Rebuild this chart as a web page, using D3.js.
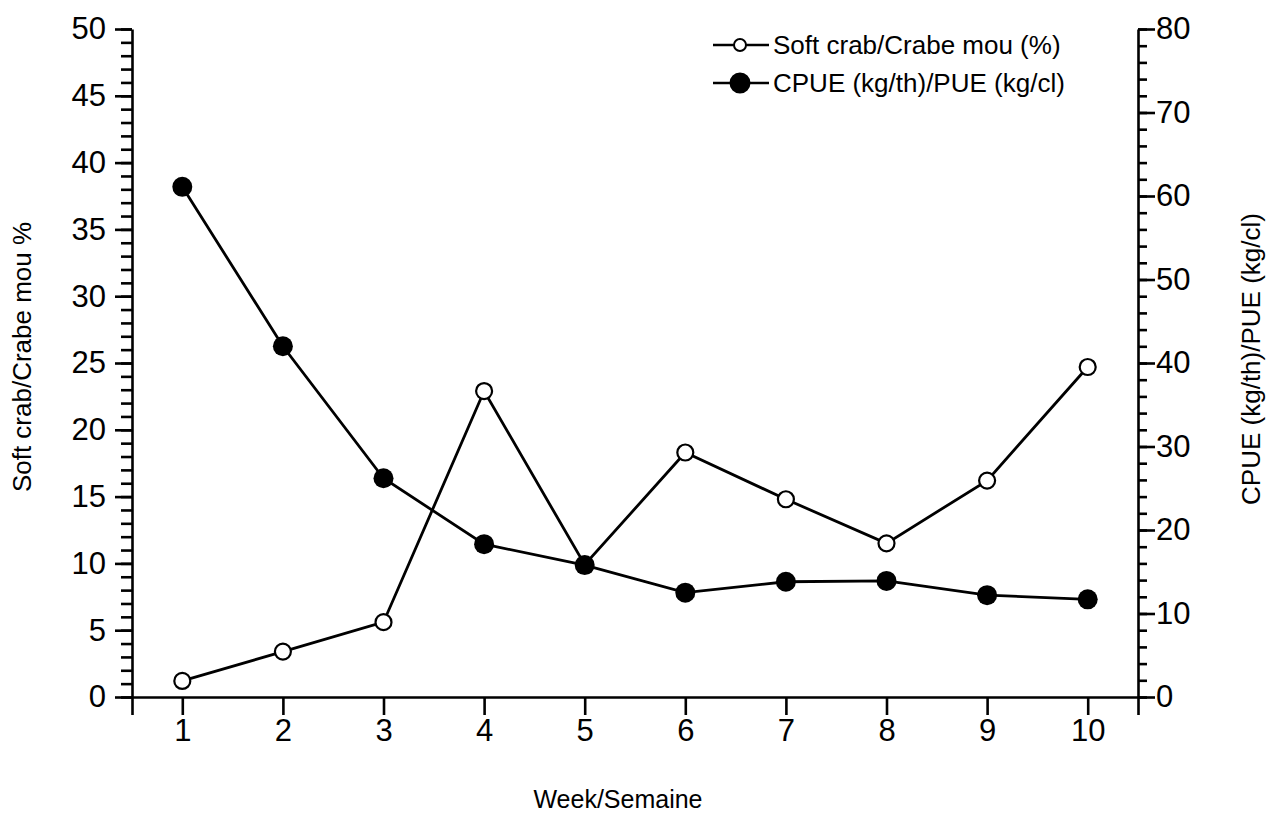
<!DOCTYPE html>
<html>
<head>
<meta charset="utf-8">
<script src="https://cdn.jsdelivr.net/npm/d3@7"></script>
<style>
  body { margin: 0; background: #fff; }
  svg { font-family: "Liberation Sans", Arial, sans-serif; }
  .axis path, .axis line { stroke: #000; stroke-width: 2.6; }
</style>
</head>
<body>
<div id="chart-container"></div>
<script>
// DATA
const weeks = [1, 2, 3, 4, 5, 6, 7, 8, 9, 10];
const softCrab = [1.2, 3.4, 5.6, 22.9, 9.9, 18.3, 14.8, 11.5, 16.2, 24.7];
const cpue = [61.1, 42.0, 26.2, 18.3, 15.8, 12.5, 13.8, 13.9, 12.2, 11.7];
const seriesNames = ['Soft crab/Crabe mou (%)', 'CPUE (kg/th)/PUE (kg/cl)'];
const leftTicks = [0, 5, 10, 15, 20, 25, 30, 35, 40, 45, 50];
const rightTicks = [0, 10, 20, 30, 40, 50, 60, 70, 80];

// GLOBALS AND CONSTANTS
const width = 1270;
const height = 815;
const plot = { left: 132, right: 1138, top: 29, bottom: 697 };
const FONT = '"Liberation Sans", Arial, sans-serif';

const svg = d3.select('#chart-container')
  .append('svg')
  .attr('width', width)
  .attr('height', height);

// SCALES
const xScale = d3.scaleLinear()
  .domain([0.5, 10.5])
  .range([plot.left, plot.right]);

const yLeft = d3.scaleLinear()
  .domain([0, 50])
  .range([plot.bottom, plot.top]);

const yRight = d3.scaleLinear()
  .domain([0, 80])
  .range([plot.bottom, plot.top]);

function styleText(g) {
  g.attr('font-family', FONT).attr('font-size', 31);
  g.selectAll('text').attr('fill', '#000');
}

// AXES
// left minor ticks
svg.append('g')
  .attr('class', 'axis')
  .attr('transform', `translate(${plot.left},0)`)
  .call(d3.axisLeft(yLeft).tickValues(d3.range(0, 51, 1)).tickSize(11).tickSizeOuter(0).tickFormat(''))
  .call(g => g.select('.domain').remove());

// left major ticks
svg.append('g')
  .attr('class', 'axis')
  .attr('transform', `translate(${plot.left},0)`)
  .call(d3.axisLeft(yLeft).tickValues(leftTicks).tickSize(17).tickSizeOuter(0).tickPadding(9))
  .call(styleText);

// right minor ticks
svg.append('g')
  .attr('class', 'axis')
  .attr('transform', `translate(${plot.right},0)`)
  .call(d3.axisRight(yRight).tickValues(d3.range(0, 81, 2)).tickSize(9).tickSizeOuter(0).tickFormat(''))
  .call(g => g.select('.domain').remove());

// right major ticks
svg.append('g')
  .attr('class', 'axis')
  .attr('transform', `translate(${plot.right},0)`)
  .call(d3.axisRight(yRight).tickValues(rightTicks).tickSize(17).tickSizeOuter(0).tickPadding(1))
  .call(styleText);

// bottom
svg.append('g')
  .attr('class', 'axis')
  .attr('transform', `translate(0,${plot.bottom})`)
  .call(d3.axisBottom(xScale).tickValues(weeks).tickSize(18).tickSizeOuter(18).tickPadding(4).tickFormat(d3.format('d')))
  .call(styleText);

// AXIS TITLES
svg.append('text')
  .attr('transform', `translate(31,${(plot.top + plot.bottom) / 2 - 6}) rotate(-90)`)
  .attr('text-anchor', 'middle')
  .style('font-size', '26px')
  .text('Soft crab/Crabe mou %');

svg.append('text')
  .attr('transform', `translate(1260,${(plot.top + plot.bottom) / 2 - 4}) rotate(-90)`)
  .attr('text-anchor', 'middle')
  .style('font-size', '26px')
  .text('CPUE (kg/th)/PUE (kg/cl)');

svg.append('text')
  .attr('x', 618)
  .attr('y', 808)
  .attr('text-anchor', 'middle')
  .style('font-size', '25px')
  .text('Week/Semaine');

// LINES
const softData = weeks.map((w, i) => ({ week: w, value: softCrab[i] }));
const cpueData = weeks.map((w, i) => ({ week: w, value: cpue[i] }));

const lineLeft = d3.line().x(d => xScale(d.week)).y(d => yLeft(d.value));
const lineRight = d3.line().x(d => xScale(d.week)).y(d => yRight(d.value));

svg.append('path')
  .datum(softData)
  .attr('d', lineLeft)
  .attr('fill', 'none')
  .attr('stroke', '#000')
  .attr('stroke-width', 2.8);

svg.selectAll('.soft-dot')
  .data(softData)
  .enter()
  .append('circle')
  .attr('class', 'soft-dot')
  .attr('cx', d => xScale(d.week))
  .attr('cy', d => yLeft(d.value))
  .attr('r', 8)
  .attr('fill', '#fff')
  .attr('stroke', '#000')
  .attr('stroke-width', 2.2);

svg.append('path')
  .datum(cpueData)
  .attr('d', lineRight)
  .attr('fill', 'none')
  .attr('stroke', '#000')
  .attr('stroke-width', 2.8);

svg.selectAll('.cpue-dot')
  .data(cpueData)
  .enter()
  .append('circle')
  .attr('class', 'cpue-dot')
  .attr('cx', d => xScale(d.week))
  .attr('cy', d => yRight(d.value))
  .attr('r', 10)
  .attr('fill', '#000');

// LEGEND
const legend = svg.selectAll('.legend')
  .data(seriesNames)
  .enter()
  .append('g')
  .attr('class', 'legend')
  .attr('transform', (d, i) => `translate(713,${45 + i * 38})`);

legend.append('line')
  .attr('x1', 0)
  .attr('x2', 56)
  .attr('stroke', '#000')
  .attr('stroke-width', 2.6);

legend.append('circle')
  .attr('cx', 27)
  .attr('r', (d, i) => i === 0 ? 6 : 9.5)
  .attr('fill', (d, i) => i === 0 ? '#fff' : '#000')
  .attr('stroke', '#000')
  .attr('stroke-width', 2);

legend.append('text')
  .attr('x', 60)
  .attr('dy', '0.35em')
  .style('font-size', '26px')
  .text(d => d);
</script>
</body>
</html>
